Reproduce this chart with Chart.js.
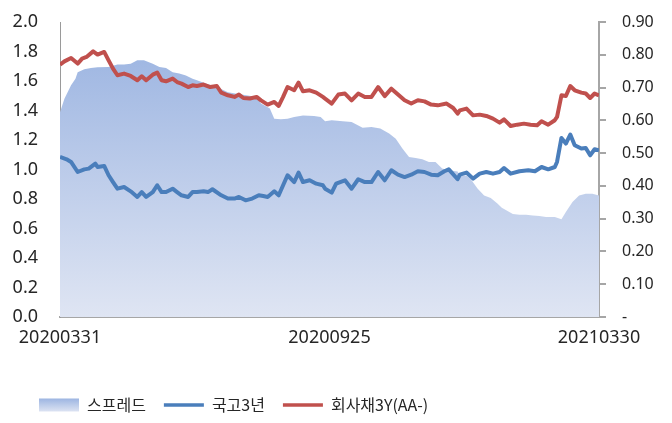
<!DOCTYPE html>
<html>
<head>
<meta charset="utf-8">
<script src="https://cdn.jsdelivr.net/npm/chart.js@4.4.1/dist/chart.umd.min.js"></script>
<style>
  html, body { margin: 0; padding: 0; background: #fff; }
</style>
</head>
<body>
<canvas id="spreadChart" width="672" height="423"></canvas>
<script>
// trading-day index from 2020-03-31 (0) to 2021-03-30 (244)
const dateTickDays = [0, 122, 244];
const dateLabels = ['20200331', '20200925', '20210330'];

// 스프레드 (right axis)
const spreadDays = [0,2,5,7,8,11,14,17,22,26,29,32,35,38,42,45,48,51,54,57,60,62,66,71,76,80,85,89,91,95,97,100,103,106,110,115,118,120,123,128,132,137,141,145,149,152,155,158,161,164,167,170,173,176,180,181,184,186,189,192,195,198,200,202,205,208,211,214,217,220,224,227,229,232,235,238,241,244];
const spreadValues = [0.625,0.666,0.707,0.727,0.747,0.756,0.760,0.762,0.763,0.770,0.770,0.773,0.783,0.783,0.773,0.763,0.760,0.747,0.743,0.737,0.727,0.722,0.712,0.702,0.686,0.681,0.676,0.671,0.651,0.636,0.605,0.603,0.605,0.610,0.615,0.613,0.610,0.597,0.600,0.597,0.595,0.577,0.580,0.575,0.560,0.544,0.514,0.488,0.485,0.481,0.473,0.473,0.453,0.448,0.444,0.432,0.432,0.420,0.392,0.371,0.363,0.346,0.333,0.326,0.314,0.312,0.312,0.310,0.308,0.305,0.305,0.298,0.320,0.351,0.371,0.376,0.376,0.371];

// 국고3년 (left axis)
const ktbDays = [0,3,5,8,11,13,16,17,20,22,24,26,29,32,35,37,39,42,44,46,48,51,53,55,58,60,62,65,67,69,73,76,79,81,84,87,90,92,94,97,99,101,103,106,108,110,113,116,119,120,123,125,129,132,135,138,141,144,147,150,153,156,159,162,165,168,171,174,176,180,181,184,187,190,193,196,199,201,204,208,212,215,218,221,224,225,227,229,231,233,236,238,240,242,244];
const ktbValues = [1.085,1.069,1.051,0.983,1.001,1.006,1.04,1.017,1.024,0.961,0.915,0.87,0.881,0.852,0.814,0.847,0.814,0.847,0.893,0.847,0.847,0.87,0.847,0.825,0.814,0.847,0.847,0.852,0.847,0.866,0.825,0.803,0.803,0.814,0.791,0.803,0.825,0.82,0.814,0.852,0.825,0.893,0.961,0.915,0.979,0.915,0.927,0.904,0.893,0.87,0.843,0.904,0.927,0.87,0.934,0.915,0.915,0.983,0.927,0.995,0.965,0.949,0.965,0.988,0.983,0.965,0.961,0.988,1.001,0.934,0.965,0.979,0.938,0.972,0.983,0.972,0.983,1.01,0.972,0.988,0.995,0.988,1.017,1.001,1.017,1.051,1.214,1.176,1.237,1.164,1.142,1.146,1.096,1.137,1.13];

// 회사채3Y(AA-) (left axis)
const corpDays = [0,2,5,8,10,12,15,17,20,22,24,26,29,32,35,37,39,42,44,46,48,51,53,55,58,60,62,65,68,71,73,76,79,81,83,86,89,91,94,97,99,101,103,106,108,110,113,116,119,120,123,126,129,132,135,138,141,144,147,150,153,156,159,162,165,168,171,175,178,180,181,184,187,190,193,196,199,201,204,207,210,213,216,218,221,224,225,227,229,231,233,236,238,240,242,244];
const corpValues = [1.71,1.733,1.756,1.718,1.752,1.763,1.801,1.779,1.797,1.74,1.684,1.639,1.65,1.634,1.605,1.632,1.605,1.643,1.657,1.605,1.598,1.616,1.593,1.582,1.559,1.571,1.566,1.576,1.559,1.566,1.521,1.503,1.492,1.508,1.485,1.481,1.492,1.469,1.44,1.458,1.431,1.492,1.559,1.537,1.589,1.53,1.537,1.521,1.492,1.481,1.447,1.508,1.515,1.469,1.515,1.492,1.492,1.559,1.498,1.548,1.508,1.469,1.447,1.469,1.462,1.44,1.435,1.447,1.417,1.379,1.401,1.413,1.367,1.372,1.363,1.345,1.318,1.34,1.295,1.304,1.311,1.304,1.3,1.327,1.304,1.334,1.356,1.503,1.498,1.566,1.537,1.521,1.515,1.485,1.515,1.503];

const leftTicks = [0, 0.2, 0.4, 0.6, 0.8, 1.0, 1.2, 1.4, 1.6, 1.8, 2.0];
const rightTicks = [0, 0.1, 0.2, 0.3, 0.4, 0.5, 0.6, 0.7, 0.8, 0.9];

const toPoints = (days, values) => days.map((d, i) => ({ x: d, y: values[i] }));

const textColor = '#262626';
const axisGray = '#a6a6a6';

function areaGradient(context) {
    const chart = context.chart;
    const area = chart.chartArea;
    if (!area) return '#b4c6ea';
    const g = chart.ctx.createLinearGradient(0, area.top, 0, area.bottom);
    g.addColorStop(0, '#97b1e0');
    g.addColorStop(1, '#dfe5f3');
    return g;
}

// legend in the original sits left of centre
const legendShift = {
    id: 'legendShift',
    afterLayout(chart) {
        chart.legend.left += 16;
    }
};

// keep the tick label padding from pushing the plot top down
function noVerticalPad(s) {
    s.paddingTop = 0;
    s.paddingBottom = 0;
}

const ctx = document.getElementById('spreadChart').getContext('2d');
const myChart = new Chart(ctx, {
    type: 'line',
    plugins: [legendShift],
    data: {
        datasets: [{
            label: '스프레드',
            data: toPoints(spreadDays, spreadValues),
            yAxisID: 'y1',
            fill: 'origin',
            backgroundColor: areaGradient,
            borderWidth: 0,
            pointRadius: 0,
            order: 3
        }, {
            label: '국고3년',
            data: toPoints(ktbDays, ktbValues),
            yAxisID: 'y',
            borderColor: '#4a7ebb',
            borderWidth: 4,
            borderJoinStyle: 'round',
            pointRadius: 0,
            fill: false,
            order: 2
        }, {
            label: '회사채3Y(AA-)',
            data: toPoints(corpDays, corpValues),
            yAxisID: 'y',
            borderColor: '#c0504d',
            borderWidth: 4,
            borderJoinStyle: 'round',
            pointRadius: 0,
            fill: false,
            order: 1
        }]
    },
    options: {
        responsive: false,
        animation: false,
        devicePixelRatio: 1,
        layout: { padding: { left: 5, right: 0, top: 22, bottom: 0 } },
        plugins: {
            tooltip: { enabled: false },
            legend: {
                position: 'bottom',
                align: 'start',
                labels: {
                    usePointStyle: true,
                    pointStyleWidth: 40,
                    boxHeight: 13,
                    padding: 18,
                    color: textColor,
                    font: { family: "'Noto Sans CJK KR'", size: 16 },
                    sort: (a, b) => a.datasetIndex - b.datasetIndex,
                    generateLabels(chart) {
                        const items = Chart.defaults.plugins.legend.labels.generateLabels(chart);
                        items.forEach(item => {
                            const ds = chart.data.datasets[item.datasetIndex];
                            if (ds.fill === 'origin') {
                                const g = chart.ctx.createLinearGradient(0, 398, 0, 412);
                                g.addColorStop(0, '#9ab3e1');
                                g.addColorStop(1, '#dfe5f3');
                                item.pointStyle = 'rect';
                                item.fillStyle = g;
                                item.strokeStyle = 'rgba(0,0,0,0)';
                                item.lineWidth = 0;
                            } else {
                                item.pointStyle = 'line';
                                item.strokeStyle = ds.borderColor;
                                item.lineWidth = 3.5;
                            }
                        });
                        return items;
                    }
                }
            }
        },
        scales: {
            x: {
                type: 'linear',
                min: dateTickDays[0],
                max: dateTickDays[dateTickDays.length - 1],
                afterBuildTicks: s => { s.ticks = dateTickDays.map(v => ({ value: v })); },
                afterFit: s => { s.height = 62; },
                grid: { display: false },
                border: { display: true, color: axisGray, width: 2 },
                ticks: {
                    autoSkip: false,
                    maxRotation: 0,
                    padding: 2,
                    color: textColor,
                    font: { family: "'Noto Sans'", size: 18 },
                    callback: (v, i) => dateLabels[i]
                }
            },
            y: {
                position: 'left',
                min: 0,
                max: 2,
                afterBuildTicks: s => { s.ticks = leftTicks.map(v => ({ value: v })); },
                afterFit: s => { s.width = 55; noVerticalPad(s); },
                grid: { display: false, drawTicks: false },
                border: { display: true, color: '#9a9a9a', width: 1, dash: [1, 2] },
                ticks: {
                    padding: 22,
                    color: textColor,
                    font: { family: "'Noto Sans'", size: 18 },
                    callback: v => v.toFixed(1)
                }
            },
            y1: {
                position: 'right',
                min: 0,
                max: 0.9,
                afterBuildTicks: s => { s.ticks = rightTicks.map(v => ({ value: v })); },
                afterFit: s => { s.width = 73; noVerticalPad(s); },
                grid: { drawOnChartArea: false, drawTicks: true, tickLength: 7, color: axisGray, lineWidth: 2 },
                border: { display: true, color: axisGray, width: 2 },
                ticks: {
                    padding: 16,
                    color: textColor,
                    font: { family: "'Noto Sans'", size: 16 },
                    callback: v => (v === 0 ? '-' : v.toFixed(2))
                }
            }
        }
    }
});
</script>
</body>
</html>
